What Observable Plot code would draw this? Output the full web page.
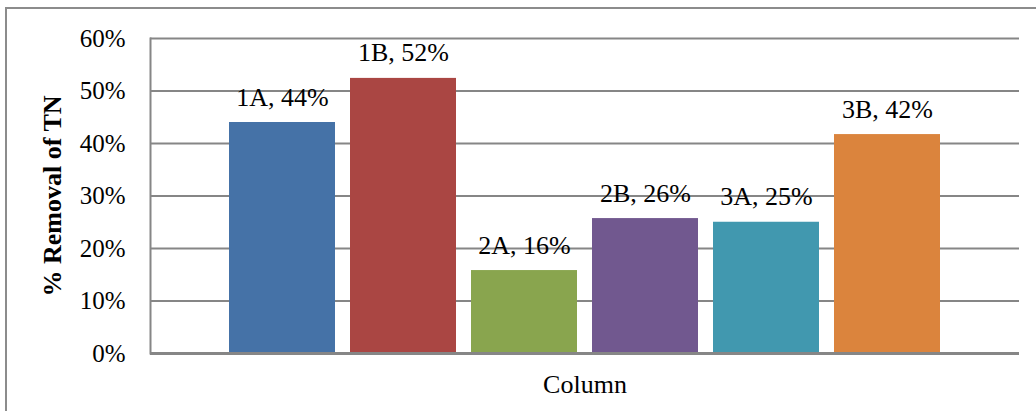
<!DOCTYPE html>
<html>
<head>
<meta charset="utf-8">
<script src="https://cdn.jsdelivr.net/npm/d3@7"></script>
<script src="https://cdn.jsdelivr.net/npm/@observablehq/plot@0.6"></script>
<style>
  html, body { margin: 0; padding: 0; background: #fff; overflow: hidden; }
  #wrap { position: relative; width: 1036px; height: 411px; }
  #border { position: absolute; left: 5px; top: 7px; width: 1200px; height: 600px;
            border-left: 2px solid #8c8c8c; border-top: 2px solid #8c8c8c; pointer-events: none; }
  svg { display: block; }
</style>
</head>
<body>
<div id="wrap"><div id="border"></div></div>
<script>
const series = ["1A", "1B", "2A", "2B", "3A", "3B"];
const values = [0.44, 0.524, 0.158, 0.257, 0.25, 0.417];
const labels = ["1A, 44%", "1B, 52%", "2A, 16%", "2B, 26%", "3A, 25%", "3B, 42%"];
const colors = ["#4572A7", "#AA4643", "#89A54E", "#71588F", "#4198AF", "#DB843D"];
const yTicks = [0, 0.1, 0.2, 0.3, 0.4, 0.5, 0.6];
const categoryLabel = ["Column"];
const yTitle = ["% Removal of TN"];

const data = series.map((s, i) => ({series: s, value: values[i], label: labels[i]}));
const font = "'Liberation Serif', 'Times New Roman', serif";

const chart = Plot.plot({
  width: 1036,
  height: 411,
  marginTop: 38,
  marginBottom: 58,
  marginLeft: 150,
  marginRight: 17,
  style: {fontFamily: font, fontSize: "25px", color: "#000", background: "transparent"},
  x: {domain: series, range: [220.3, 948.7], paddingInner: 0.127, paddingOuter: 0.0635, axis: null},
  y: {domain: [0, 0.6], ticks: yTicks, tickFormat: d3.format(".0%")},
  color: {domain: series, range: colors},
  marks: [
    Plot.ruleY(yTicks.filter(d => d > 0), {stroke: "#868686", strokeWidth: 2, strokeOpacity: 1}),
    Plot.frame({anchor: "left", stroke: "#868686", strokeWidth: 2, strokeOpacity: 1}),
    Plot.barY(data, {x: "series", y: "value", fill: "series"}),
    Plot.ruleY([0], {stroke: "#868686", strokeWidth: 3, strokeOpacity: 1}),
    Plot.axisY({ticks: yTicks, tickFormat: d3.format(".0%"), tickSize: 0, tickPadding: 25, label: null, fontSize: 25}),
    Plot.text(data, {x: "series", y: "value", text: "label", lineAnchor: "bottom", dy: -17, fontSize: 26, fill: "#000"}),
    Plot.text(categoryLabel, {text: d => d, frameAnchor: "bottom", dy: 39, fontSize: 26, fill: "#000"}),
    Plot.text(yTitle, {text: d => d, frameAnchor: "left", textAnchor: "middle", rotate: -90, dx: -98, fontSize: 26, fontWeight: "bold", fill: "#000"})
  ]
});
document.getElementById("wrap").prepend(chart);
</script>
</body>
</html>
